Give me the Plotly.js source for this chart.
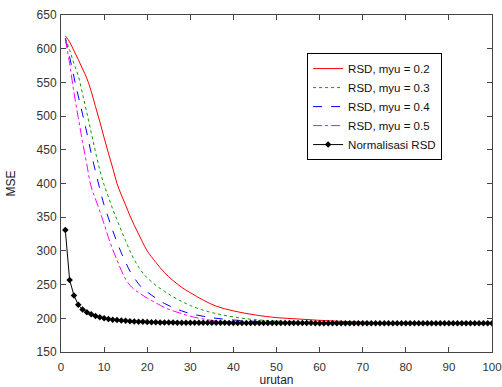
<!DOCTYPE html>
<html>
<head>
<meta charset="utf-8">
<script src="https://cdn.plot.ly/plotly-3.0.1.min.js"></script>
<style>
html,body{margin:0;padding:0;background:#fff;}
#chart{width:502px;height:387px;}
</style>
</head>
<body>
<div id="chart"></div>
<script>
// x positions for RSD curves
const xRSD = [1,2,3,4,5,6,7,8,9,10,11,12,13,14,15,16,17,18,19,20,22,24,26,28,30,33,36,40,45,50,55,60,65,70,75,80,90,100];
const mse_myu02 = [619,610,597,584,570,556,537,514,492,468,445,423,400,383,368,352,338,325,312,300,283,268,256,246,238,227,218,211,205,201,199,197,195.5,194.3,193.3,192.8,192.6,192.5];
const mse_myu03 = [616,598,578,560,533,505,476,447,420,398,380,362,346,330,315,300,287,276,267,260,249,240,232,225,219,212,207,202,198,196,194.5,193.6,193.1,192.8,192.6,192.5,192.5,192.5];
const mse_myu04 = [615,588,558,530,503,475,445,418,392,368,349,330,313,297,283,270,260,251,244,239,230,222,216,211,207,203,200,197.5,195.5,194.2,193.5,193,192.8,192.6,192.5,192.5,192.5,192.5];
const mse_myu05 = [614,578,535,498,462,428,395,377,359,340,320,302,286,271,258,249,243,238,234,230,223,216,211,207,203,199,196,194.5,193.5,193,192.8,192.7,192.6,192.5,192.5,192.5,192.5,192.5];

// Normalisasi RSD, one value per iteration 1..100
const xNorm = [];
for (let i = 1; i <= 100; i++) xNorm.push(i);
const mse_norm = [
331,257,234,220,213,209,206,203.5,201.5,200,
199,198,197.3,196.7,196.2,195.8,195.4,195,194.7,194.4,
194.2,194,193.9,193.8,193.7,193.6,193.5,193.5,193.4,193.4,
193.4,193.4,193.3,193.3,193.3,193.3,193.3,193.3,193.2,193.2,
193.2,193.2,193.2,193.2,193.2,193.2,193.1,193.1,193.1,193.1,
193.1,193.1,193.1,193.1,193.1,193.1,193.1,193,192.7,192.6,
192.6,192.6,192.6,192.6,192.6,192.6,192.6,192.6,192.6,192.6,
192.6,192.6,192.6,192.6,192.6,192.6,192.6,192.6,192.6,192.6,
192.6,192.6,192.6,192.6,192.6,192.6,192.6,192.6,192.6,192.6,
192.6,192.6,192.6,192.6,192.6,192.6,192.6,192.6,192.6,192.6
];

const seriesNames = ['RSD, myu = 0.2','RSD, myu = 0.3','RSD, myu = 0.4','RSD, myu = 0.5','Normalisasi RSD'];
const xTicks = [0,10,20,30,40,50,60,70,80,90,100];
const yTicks = [150,200,250,300,350,400,450,500,550,600,650];

const traces = [
  {x:xRSD, y:mse_myu02, name:seriesNames[0], mode:'lines', line:{color:'#ff0000', width:1, shape:'spline'}},
  {x:xRSD, y:mse_myu03, name:seriesNames[1], mode:'lines', line:{color:'#00a000', width:1, dash:'dot', shape:'spline'}},
  {x:xRSD, y:mse_myu04, name:seriesNames[2], mode:'lines', line:{color:'#0000ff', width:1, dash:'dash', shape:'spline'}},
  {x:xRSD, y:mse_myu05, name:seriesNames[3], mode:'lines', line:{color:'#ff00ff', width:1, dash:'dashdot', shape:'spline'}},
  {x:xNorm, y:mse_norm, name:seriesNames[4], mode:'lines+markers', line:{color:'#000000', width:1}, marker:{symbol:'diamond', size:5, color:'#000000'}}
];

const axisCommon = {
  showgrid:false, zeroline:false, showline:true, linecolor:'#444', linewidth:1,
  mirror:'ticks', ticks:'inside', ticklen:5, tickcolor:'#444', tickwidth:1,
  tickfont:{family:'Liberation Sans, Arial, sans-serif', size:12, color:'#333'}
};

const layout = {
  width:502, height:387,
  margin:{l:61, r:10, t:15, b:35},
  paper_bgcolor:'#fff', plot_bgcolor:'#fff',
  showlegend:true,
  font:{family:'Liberation Sans, Arial, sans-serif', size:11, color:'#222'},
  xaxis: Object.assign({}, axisCommon, {
    range:[0,100], tickvals:xTicks, ticktext:xTicks.map(String),
    ticklabelstandoff:4,
    tickfont:{family:'Liberation Sans, Arial, sans-serif', size:11.5, color:'#333'},
    title:{text:'urutan', font:{size:12, color:'#222'}, standoff:1}
  }),
  yaxis: Object.assign({}, axisCommon, {
    range:[150,650], tickvals:yTicks, ticktext:yTicks.map(String),
    ticklabelstandoff:1,
    title:{text:'MSE', font:{size:12, color:'#222'}, standoff:18}
  }),
  legend:{
    x:0.571, y:0.887, xanchor:'left', yanchor:'top',
    bgcolor:'#fff', bordercolor:'#000', borderwidth:1,
    font:{family:'Liberation Sans, Arial, sans-serif', size:11.5, color:'#111'},
    tracegroupgap:0
  }
};

Plotly.newPlot('chart', traces, layout, {displayModeBar:false, staticPlot:true});
</script>
</body>
</html>
